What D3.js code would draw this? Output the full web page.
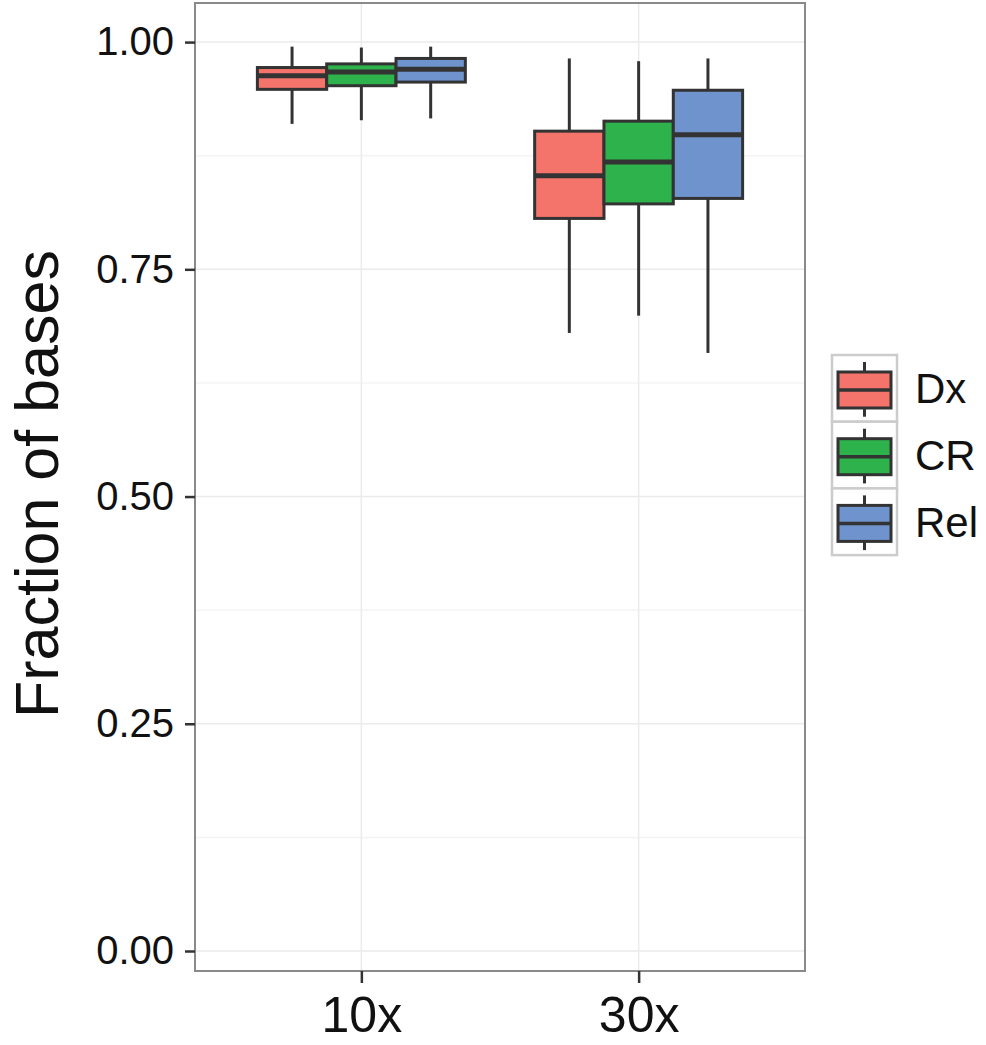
<!DOCTYPE html>
<html>
<head>
<meta charset="utf-8">
<script src="https://cdn.jsdelivr.net/npm/d3@7"></script>
<style>
  body { margin: 0; background: #fff; }
  svg { display: block; font-family: "Liberation Sans", Arial, sans-serif; }
</style>
</head>
<body>
<div id="chart"></div>
<script>
// depth categories and methods
var depths = ["10x", "30x"];
var methods = ["Dx", "CR", "Rel"];
var colors = ["#F4736B", "#2EB34C", "#6E93CD"];

// box stats per method, one entry per depth: [whisker low, q1, median, q3, whisker high]
var dxStats  = [[0.910, 0.948, 0.963, 0.972, 0.995], [0.680, 0.806, 0.853, 0.902, 0.982]];
var crStats  = [[0.914, 0.952, 0.967, 0.976, 0.994], [0.699, 0.822, 0.868, 0.913, 0.979]];
var relStats = [[0.916, 0.956, 0.970, 0.982, 0.995], [0.658, 0.828, 0.898, 0.947, 0.982]];

var yTicks = [0, 0.25, 0.5, 0.75, 1];
var yMinor = [0.125, 0.375, 0.625, 0.875];

var width = 986, height = 1045;
var panel = {left: 195, right: 805, top: 3, bottom: 971};

var svg = d3.select("#chart").append("svg")
  .attr("width", width)
  .attr("height", height);

var x = d3.scalePoint()
  .domain(depths)
  .range([panel.left, panel.right])
  .padding(0.6);

var step = x.step();
var xSub = d3.scaleBand()
  .domain(methods)
  .range([-0.375 * step, 0.375 * step])
  .padding(0);

var y = d3.scaleLinear()
  .domain([-0.022, 1.043])
  .range([panel.bottom, panel.top]);

var color = d3.scaleOrdinal().domain(methods).range(colors);

// grid
var grid = svg.append("g");
grid.selectAll(".minor").data(yMinor).enter().append("line")
  .attr("x1", panel.left).attr("x2", panel.right)
  .attr("y1", d => y(d)).attr("y2", d => y(d))
  .attr("stroke", "#f4f4f4").attr("stroke-width", 1.5);
grid.selectAll(".major").data(yTicks).enter().append("line")
  .attr("x1", panel.left).attr("x2", panel.right)
  .attr("y1", d => y(d)).attr("y2", d => y(d))
  .attr("stroke", "#ebebeb").attr("stroke-width", 1.5);
grid.selectAll(".vmajor").data(depths).enter().append("line")
  .attr("x1", d => x(d)).attr("x2", d => x(d))
  .attr("y1", panel.top).attr("y2", panel.bottom)
  .attr("stroke", "#ebebeb").attr("stroke-width", 1.5);

// boxes
var rows = [];
var allStats = [dxStats, crStats, relStats];
methods.forEach(function(m, i) {
  depths.forEach(function(dp, j) {
    var s = allStats[i][j];
    rows.push({method: m, depth: dp, lo: s[0], q1: s[1], med: s[2], q3: s[3], hi: s[4]});
  });
});

var boxes = svg.append("g").selectAll("g").data(rows).enter().append("g")
  .attr("transform", d => "translate(" + (x(d.depth) + xSub(d.method)) + ",0)");

var bw = xSub.bandwidth();
boxes.append("line")
  .attr("x1", bw / 2).attr("x2", bw / 2)
  .attr("y1", d => y(d.hi)).attr("y2", d => y(d.q3))
  .attr("stroke", "#333").attr("stroke-width", 3);
boxes.append("line")
  .attr("x1", bw / 2).attr("x2", bw / 2)
  .attr("y1", d => y(d.q1)).attr("y2", d => y(d.lo))
  .attr("stroke", "#333").attr("stroke-width", 3);
boxes.append("rect")
  .attr("x", 0).attr("width", bw)
  .attr("y", d => y(d.q3))
  .attr("height", d => y(d.q1) - y(d.q3))
  .attr("fill", d => color(d.method))
  .attr("stroke", "#333").attr("stroke-width", 3);
boxes.append("line")
  .attr("x1", 0).attr("x2", bw)
  .attr("y1", d => y(d.med)).attr("y2", d => y(d.med))
  .attr("stroke", "#333").attr("stroke-width", 5);

// panel border
svg.append("rect")
  .attr("x", panel.left).attr("y", panel.top)
  .attr("width", panel.right - panel.left)
  .attr("height", panel.bottom - panel.top)
  .attr("fill", "none").attr("stroke", "#8a8a8a").attr("stroke-width", 2);

// axes
var yAxis = svg.append("g")
  .attr("transform", "translate(" + panel.left + ",0)")
  .call(d3.axisLeft(y).tickValues(yTicks).tickFormat(d3.format(".2f")).tickSize(10).tickPadding(11));
yAxis.select(".domain").remove();
yAxis.selectAll("line").attr("stroke", "#333").attr("stroke-width", 2.5);
yAxis.selectAll("text").attr("font-size", 40).attr("fill", "#111")
  .attr("font-family", "Liberation Sans, Arial, sans-serif");

var xAxis = svg.append("g")
  .attr("transform", "translate(0," + panel.bottom + ")")
  .call(d3.axisBottom(x).tickSize(12).tickPadding(13));
xAxis.select(".domain").remove();
xAxis.selectAll("line").attr("stroke", "#333").attr("stroke-width", 2.5);
xAxis.selectAll("text").attr("font-size", 50).attr("fill", "#111")
  .attr("font-family", "Liberation Sans, Arial, sans-serif");

svg.append("text")
  .attr("transform", "translate(58,484) rotate(-90)")
  .attr("text-anchor", "middle")
  .attr("font-size", 61)
  .attr("fill", "#111")
  .text("Fraction of bases");

// legend
var keyW = 65, keyH = 66.7;
var legend = svg.append("g").attr("transform", "translate(832,355)");
var keys = legend.selectAll("g").data(methods).enter().append("g")
  .attr("transform", (d, i) => "translate(0," + i * keyH + ")");
keys.append("rect")
  .attr("width", keyW).attr("height", keyH)
  .attr("fill", "#fff").attr("stroke", "#cccccc").attr("stroke-width", 2.5);
keys.append("line")
  .attr("x1", keyW / 2).attr("x2", keyW / 2)
  .attr("y1", 7).attr("y2", keyH - 5)
  .attr("stroke", "#333").attr("stroke-width", 3);
keys.append("rect")
  .attr("x", 6).attr("y", 17)
  .attr("width", keyW - 12).attr("height", 36)
  .attr("fill", d => color(d)).attr("stroke", "#333").attr("stroke-width", 3);
keys.append("line")
  .attr("x1", 6).attr("x2", keyW - 6)
  .attr("y1", 35).attr("y2", 35)
  .attr("stroke", "#333").attr("stroke-width", 3.5);
keys.append("text")
  .attr("x", 83).attr("y", keyH / 2 + 15)
  .attr("font-size", 42)
  .attr("fill", "#111")
  .text(d => d);
</script>
</body>
</html>
